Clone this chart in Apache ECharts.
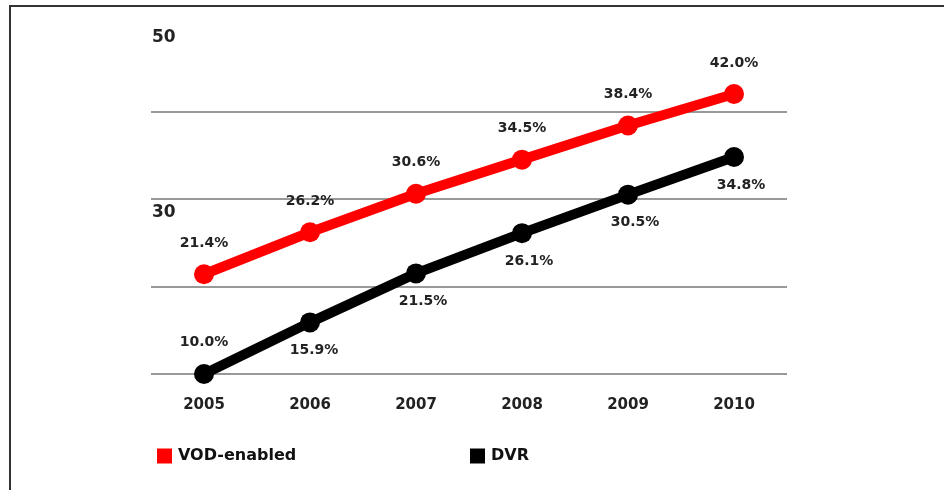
<!DOCTYPE html>
<html>
<head>
<meta charset="utf-8">
<script src="https://cdn.jsdelivr.net/npm/echarts@6/dist/echarts.min.js"></script>
<style>
  html, body { margin: 0; padding: 0; background: #fff; }
  #chart { width: 944px; height: 490px; }
</style>
</head>
<body>
<div id="chart"></div>
<script>
// 数据
var years = ['2005', '2006', '2007', '2008', '2009', '2010'];
var vodValues = [21.4, 26.2, 30.6, 34.5, 38.4, 42.0];
var dvrValues = [10.0, 15.9, 21.5, 26.1, 30.5, 34.8];
var yTickLabels = [30, 50];

var FONT = 'DejaVu Sans, Arial, sans-serif';
var labelFont = { color: '#222', fontSize: 14, fontWeight: 'bold', fontFamily: FONT };

function pct(v) { return v.toFixed(1) + '%'; }

var chart = echarts.init(document.getElementById('chart'));

chart.setOption({
  backgroundColor: '#fff',
  animation: false,
  grid: { left: 151, right: 157, top: 24, bottom: 116 },
  legend: [
    { data: ['VOD-enabled'], left: 157, top: 448, padding: 0, icon: 'rect', itemWidth: 15, itemHeight: 15, itemGap: 0,
      textStyle: { color: '#111', fontSize: 16, fontWeight: 'bold', fontFamily: FONT, padding: [0, 0, 0, 1] } },
    { data: ['DVR'], left: 470, top: 448, padding: 0, icon: 'rect', itemWidth: 15, itemHeight: 15, itemGap: 0,
      textStyle: { color: '#111', fontSize: 16, fontWeight: 'bold', fontFamily: FONT, padding: [0, 0, 0, 1] } }
  ],
  xAxis: {
    type: 'category', data: years, boundaryGap: true,
    axisLine: { show: false }, axisTick: { show: false },
    axisLabel: { margin: 24, color: '#222', fontSize: 15, fontWeight: 'bold', fontFamily: FONT }
  },
  yAxis: {
    type: 'value', min: 10, max: 50, interval: 10,
    axisLine: { show: false }, axisTick: { show: false },
    splitLine: { lineStyle: { color: ['#999', '#999', '#999', '#999', 'rgba(0,0,0,0)'], width: 2 } },
    axisLabel: {
      inside: true, margin: 1, align: 'left', verticalAlign: 'top', padding: [5, 0, 0, 0],
      color: '#222', fontSize: 17, fontWeight: 'bold', fontFamily: FONT,
      formatter: function (v) { return yTickLabels.indexOf(v) >= 0 ? String(v) : ''; }
    }
  },
  series: [
    {
      name: 'VOD-enabled', type: 'line', data: vodValues,
      symbol: 'circle', symbolSize: 20,
      lineStyle: { color: '#ff0000', width: 10 },
      itemStyle: { color: '#ff0000' },
      label: Object.assign({ show: true, position: 'top', distance: 14, formatter: function (p) { return pct(p.value); } }, labelFont),
      z: 3
    },
    {
      name: 'DVR', type: 'line',
      data: dvrValues.map(function (v, i) {
        if (i === 0) return { value: v, label: { position: 'top', distance: 15 } };
        return { value: v, label: { offset: [i > 1 ? 7 : 4, 0] } };
      }),
      symbol: 'circle', symbolSize: 20,
      lineStyle: { color: '#000', width: 10 },
      itemStyle: { color: '#000' },
      label: Object.assign({ show: true, position: 'bottom', distance: 11, formatter: function (p) { return pct(p.value); } }, labelFont),
      z: 2
    }
  ],
  graphic: [
    { type: 'line', shape: { x1: 10, y1: 6, x2: 10, y2: 490 }, style: { stroke: '#333', lineWidth: 2 } },
    { type: 'line', shape: { x1: 9, y1: 6, x2: 944, y2: 6 }, style: { stroke: '#333', lineWidth: 2 } }
  ]
});
</script>
</body>
</html>
